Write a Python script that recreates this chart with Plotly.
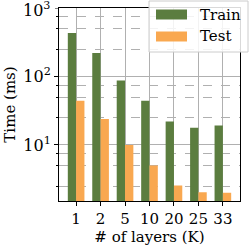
import plotly.graph_objects as go

categories = ["1", "2", "5", "10", "20", "25", "33"]
train_ms = [430, 220, 87, 44, 22, 17.8, 19.2]
test_ms = [44, 24, 10, 5.0, 2.55, 2.03, 2.0]
ytick_vals = [10, 100]
ytick_text = ["10<sup>1</sup>", "10<sup>2</sup>"]
top_tick_val = 1000
top_tick_text = "10<sup>3</sup>"
minor_vals = [m * d for d in [1, 10, 100] for m in [2.5, 5, 7.5]]

GREEN = "#5b7d3f"
ORANGE = "#f9a850"
FONT = "DejaVu Serif"

fig = go.Figure()
fig.add_trace(go.Bar(x=categories, y=train_ms, name="Train", marker=dict(color=GREEN, line=dict(width=0))))
fig.add_trace(go.Bar(x=categories, y=test_ms, name="Test", marker=dict(color=ORANGE, line=dict(width=0))))

fig.update_layout(
    width=249, height=246,
    margin=dict(l=59, r=9, t=8, b=45),
    paper_bgcolor="white", plot_bgcolor="white",
    barmode="group", bargap=0.32, bargroupgap=0,
    showlegend=False,
    font=dict(family=FONT, size=15, color="black"),
    xaxis=dict(
        type="category", range=[-0.7, 6.7], automargin=False,
        showgrid=True, gridcolor="#b0b0b0", gridwidth=1,
        showline=True, linecolor="black", linewidth=1, mirror=True,
        ticks="outside", ticklen=4, tickcolor="black",
        title=dict(text="# of layers (K)", font=dict(family=FONT, size=15), standoff=2),
        tickfont=dict(family=FONT, size=15),
    ),
    yaxis=dict(
        type="log", range=[0.181, 3.0], automargin=False,
        tickvals=ytick_vals, ticktext=ytick_text,
        showgrid=True, gridcolor="#b0b0b0", gridwidth=1,
        showline=True, linecolor="black", linewidth=1, mirror=True,
        ticks="outside", ticklen=4, tickcolor="black",
        tickfont=dict(family=FONT, size=16),
        title=dict(text="Time (ms)", font=dict(family=FONT, size=15), standoff=4),
        minor=dict(tickvals=minor_vals, showgrid=True, gridcolor="#b0b0b0",
                   griddash="dash", gridwidth=1, ticks="outside", ticklen=2,
                   tickcolor="black"),
    ),
)

# top decade label (plotly drops the label sitting exactly on the range end)
fig.add_annotation(xref="paper", yref="y", x=-7 / 181.0, y=3.0, yshift=-1,
                   text=top_tick_text, showarrow=False, xanchor="right", yanchor="middle",
                   font=dict(family=FONT, size=16, color="black"))
fig.add_shape(type="line", xref="paper", yref="y", x0=-4 / 181.0, x1=0, y0=top_tick_val, y1=top_tick_val,
              line=dict(color="black", width=1))

# manual legend with wide swatches
def px_x(p):
    return (p - 59) / 181.0

def px_y(p):
    return (201 - p) / 193.0

fig.add_shape(type="rect", xref="paper", yref="paper",
              x0=px_x(149), x1=px_x(248), y0=px_y(52), y1=px_y(1),
              fillcolor="rgba(255,255,255,0.85)", line=dict(color="#cccccc", width=1), layer="above")
for name, color, top in [("Train", GREEN, 9.5), ("Test", ORANGE, 31.5)]:
    fig.add_shape(type="rect", xref="paper", yref="paper",
                  x0=px_x(156), x1=px_x(187), y0=px_y(top + 10), y1=px_y(top),
                  fillcolor=color, line=dict(width=0), layer="above")
    fig.add_annotation(xref="paper", yref="paper", x=px_x(198), y=px_y(top + 5),
                       text=name, showarrow=False, xanchor="left", yanchor="middle",
                       font=dict(family=FONT, size=15, color="black"))

fig.write_html("out.html", config={"displayModeBar": False},
               post_script="document.body.style.margin='0';document.body.style.padding='0';")
